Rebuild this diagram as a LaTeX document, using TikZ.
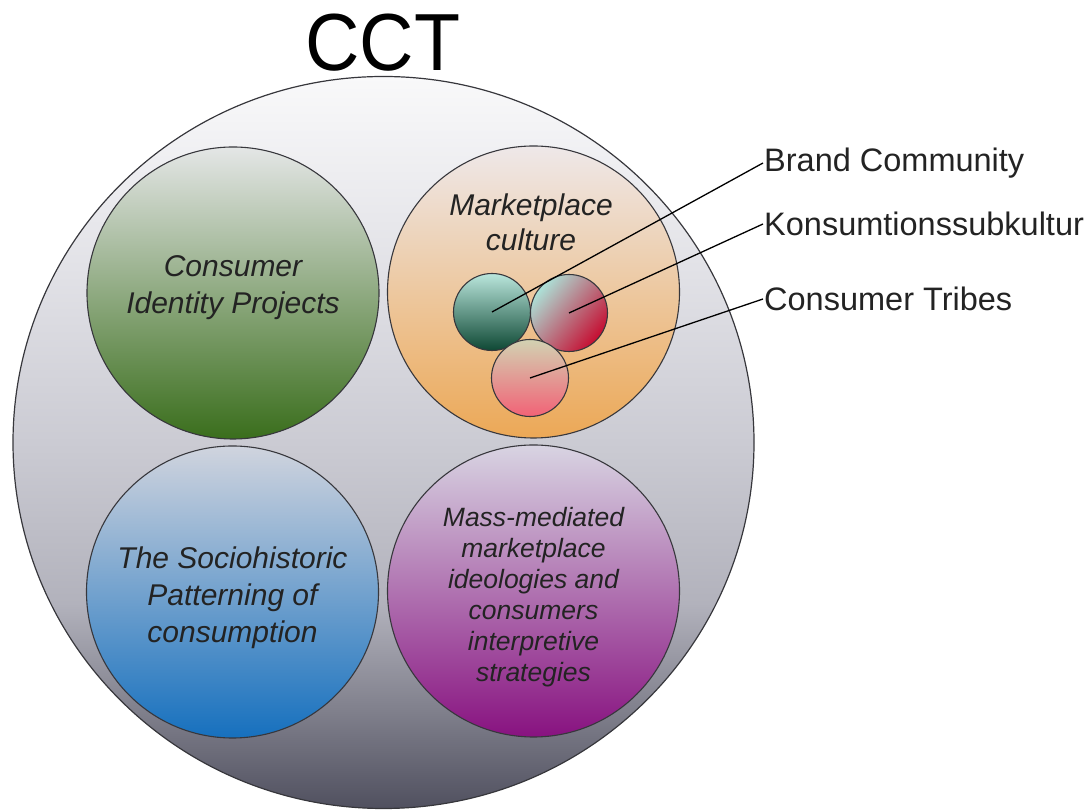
\documentclass[tikz,border=0pt]{standalone}
\usepackage{fontspec}
\setmainfont{Liberation Sans}
\usetikzlibrary{shapes.geometric}

\definecolor{ringline}{RGB}{55,55,60}
\definecolor{txt}{RGB}{35,35,35}
% grey of the outer circle, bottom to top
\definecolor{cctA}{RGB}{80,80,95}
\definecolor{cctB}{RGB}{130,130,142}
\definecolor{cctC}{RGB}{178,178,188}
\definecolor{cctD}{RGB}{203,203,211}
\definecolor{cctE}{RGB}{226,226,231}
\definecolor{cctF}{RGB}{249,249,250}
\pgfdeclareverticalshading{cctgrey}{100bp}{color(0bp)=(cctA); color(25bp)=(cctA);
  color(32bp)=(cctB); color(39bp)=(cctC); color(50bp)=(cctD); color(62bp)=(cctE);
  color(75bp)=(cctF); color(100bp)=(cctF)}

\begin{document}
\begin{tikzpicture}[x=1pt,y=1pt,
    ring/.style={circle,draw=ringline,line width=1.1pt,inner sep=0pt,minimum size=292pt},
    area/.style={align=center,text=txt,font=\fontsize{30}{37}\selectfont\itshape},
    dot/.style={circle,draw=ringline,line width=1.1pt,inner sep=0pt,minimum size=77pt},
    tag/.style={anchor=west,inner sep=1pt,text=txt,font=\fontsize{32.5}{37}\selectfont},
    leader/.style={line width=1.3pt,black}]
    \useasboundingbox (0,0) rectangle (1087,810);

    % outer circle and title
    \node[ellipse,draw=ringline,line width=1.2pt,shade,shading=cctgrey,
      minimum width=741pt,minimum height=732pt] (cct) at (383.5,367.5) {};
    \node[font=\fontsize{81}{90}\selectfont,xscale=.93] (title) at (383,767) {CCT};

    % the four research areas
    \node[ring,top color={rgb,255:red,228;green,230;blue,230},middle color={rgb,255:red,180;green,196;blue,172},
      bottom color={rgb,255:red,58;green,110;blue,28}] (cip) at (233,517) {};
    \node[ring,top color={rgb,255:red,238;green,232;blue,233},middle color={rgb,255:red,242;green,220;blue,198},
      bottom color={rgb,255:red,236;green,168;blue,86}] (mpc) at (533.5,518) {};
    \node[ring,top color={rgb,255:red,208;green,212;blue,222},middle color={rgb,255:red,152;green,176;blue,208},
      bottom color={rgb,255:red,22;green,112;blue,190}] (shp) at (232.5,218) {};
    \node[ring,top color={rgb,255:red,216;green,212;blue,226},middle color={rgb,255:red,184;green,136;blue,184},
      bottom color={rgb,255:red,136;green,18;blue,128}] (mmi) at (533.5,219) {};

    \node[area,yshift=5pt] (ciptext) at (cip) {Consumer\\Identity Projects};
    \node[area,font=\fontsize{30}{35}\selectfont\itshape] (mpctext) at (531,588) {Marketplace\\culture};
    \node[area,yshift=-6pt] (shptext) at (shp) {The Sociohistoric\\Patterning of\\consumption};
    \node[area,yshift=-6pt,font=\fontsize{26.5}{31}\selectfont\itshape] (mmitext) at (mmi)
      {Mass-mediated\\marketplace\\ideologies and\\consumers\\interpretive\\strategies};

    % subcultures inside the marketplace culture
    \node[dot,top color={rgb,255:red,186;green,230;blue,220},middle color={rgb,255:red,118;green,196;blue,178},
      bottom color={rgb,255:red,14;green,72;blue,52}] (bc) at (492,498) {};
    \node[dot,top color={rgb,255:red,172;green,226;blue,216},middle color={rgb,255:red,178;green,164;blue,168},
      bottom color={rgb,255:red,198;green,12;blue,48},shading angle=50] (ks) at (569,497) {};
    \node[dot,top color={rgb,255:red,210;green,210;blue,178},middle color={rgb,255:red,226;green,182;blue,170},
      bottom color={rgb,255:red,242;green,98;blue,118}] (ct) at (530,432) {};

    \node[tag] (lbc) at (763,647) {Brand Community};
    \node[tag] (lks) at (763,586) {Konsumtionssubkultur};
    \node[tag] (lct) at (763,511) {Consumer Tribes};

    \draw[leader] (bc.center) -- (lbc.west);
    \draw[leader] (ks.center) -- (lks.west);
    \draw[leader] (ct.center) -- (lct.west);
\end{tikzpicture}
\end{document}
